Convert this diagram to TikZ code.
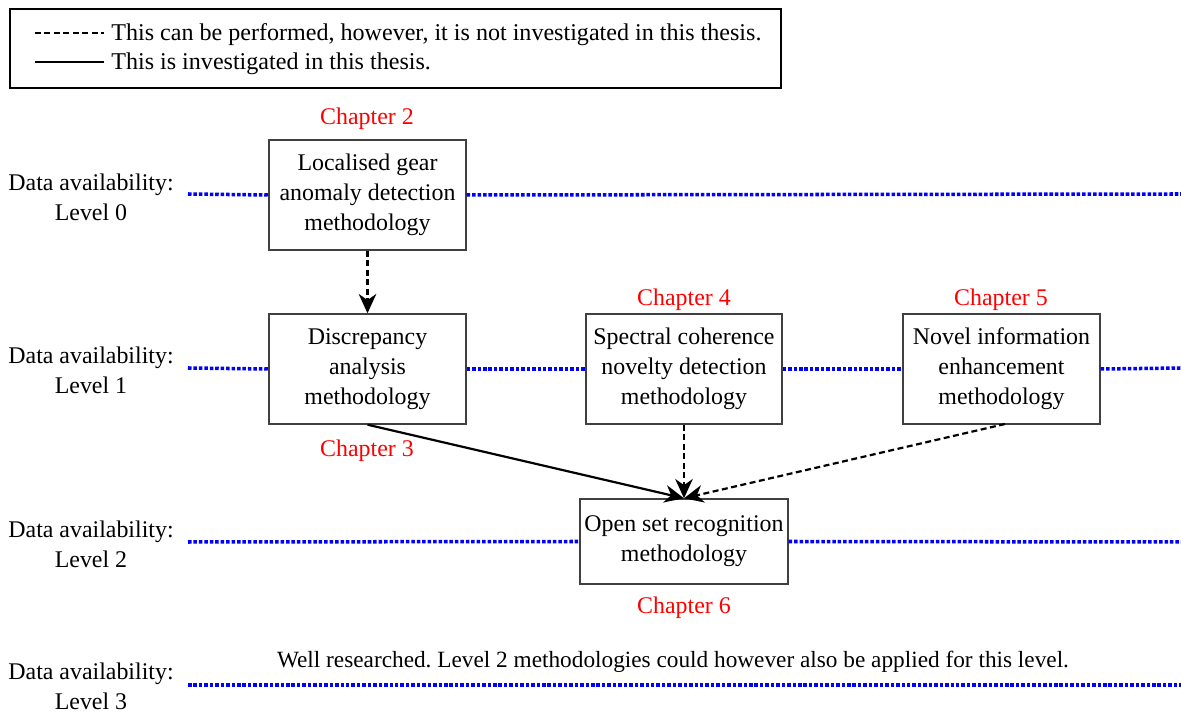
\documentclass[tikz,border=0pt]{standalone}
\usepackage{fontspec}
\setmainfont{Liberation Serif}
\usetikzlibrary{arrows.meta}
\begin{document}
\frenchspacing
\begin{tikzpicture}[x=0.02cm,y=-0.02cm,
  every node/.style={font=\fontsize{13.6}{17}\selectfont, inner sep=0pt},
  methodbox/.style={draw=black!75, line width=0.8pt, align=center},
  chapter/.style={text=red},
  levellbl/.style={align=center},
  levelline/.style={blue, line width=2pt, dash pattern=on 2pt off 1.1pt},
  flowsolid/.style={line width=1.25pt, -{Stealth[length=11pt,width=10pt,inset=3.5pt]}},
  flowdashed/.style={flowsolid, dash pattern=on 3.4pt off 2pt}]
\useasboundingbox (0,0) rectangle (1181,715);

% legend
\node[draw, line width=1.1pt, minimum width=771*0.02cm, minimum height=79*0.02cm] (legend) at (395.5,48.5) {};
\coordinate (ld1) at (35,33);  \coordinate (ld2) at (104,33);
\coordinate (ls1) at (35,62);  \coordinate (ls2) at (104,62);
\draw[line width=1.25pt, dash pattern=on 3.4pt off 2pt] (ld1) -- (ld2);
\draw[line width=1.25pt] (ls1) -- (ls2);
\node[anchor=west, font=\fontsize{13.7}{17}\selectfont] (legdash) at (111,35) {This can be performed, however, it is not investigated in this thesis.};
\node[anchor=west, font=\fontsize{13.7}{17}\selectfont] (legsolid) at (111,64) {This is investigated in this thesis.};

% level labels
\node[levellbl] (lv0) at (91,197) {Data availability:\\Level 0};
\node[levellbl] (lv1) at (91,370) {Data availability:\\Level 1};
\node[levellbl] (lv2) at (91,544) {Data availability:\\Level 2};
\node[levellbl] (lv3) at (91,686) {Data availability:\\Level 3};

% methodology boxes
\node[methodbox, minimum width=197*0.02cm, minimum height=110*0.02cm] (loc) at (367.5,195) {Localised gear\\anomaly detection\\methodology};
\node[methodbox, minimum width=197*0.02cm, minimum height=110*0.02cm] (disc) at (367.5,369) {Discrepancy\\analysis\\methodology};
\node[methodbox, minimum width=196*0.02cm, minimum height=110*0.02cm] (spec) at (684,369) {Spectral coherence\\novelty detection\\methodology};
\node[methodbox, minimum width=197*0.02cm, minimum height=110*0.02cm] (novel) at (1001.5,369) {Novel information\\enhancement\\methodology};
\node[methodbox, minimum width=208*0.02cm, minimum height=85*0.02cm] (osr) at (684,541.5) {Open set recognition\\methodology};

% chapter labels
\node[chapter] (ch2) at (367,119) {Chapter 2};
\node[chapter] (ch3) at (367,451) {Chapter 3};
\node[chapter] (ch4) at (684,300) {Chapter 4};
\node[chapter] (ch5) at (1001,300) {Chapter 5};
\node[chapter] (ch6) at (684,608) {Chapter 6};

% level lines
\coordinate (l0a) at (188,194); \coordinate (l0b) at (1181,194);
\coordinate (l1a) at (188,368); \coordinate (l1b) at (1181,368);
\coordinate (l2a) at (188,542); \coordinate (l2b) at (1181,542);
\coordinate (l3a) at (188,685); \coordinate (l3b) at (1181,685);
\draw[levelline] (l0a) -- (loc.west);  \draw[levelline] (loc.east) -- (l0b);
\draw[levelline] (l1a) -- (disc.west); \draw[levelline] (disc.east) -- (spec.west);
\draw[levelline] (spec.east) -- (novel.west); \draw[levelline] (novel.east) -- (l1b);
\draw[levelline] (l2a) -- (osr.west);  \draw[levelline] (osr.east) -- (l2b);
\draw[levelline] (l3a) -- (l3b);
\node[font=\fontsize{13.25}{17}\selectfont] (wellres) at (673,662) {Well researched. Level 2 methodologies could however also be applied for this level.};

% flows between methodologies
\coordinate (novelout) at (1005,424);
\draw[flowdashed] (loc.south) -- (disc.north);
\draw[flowsolid] (disc.south) -- (osr.north);
\draw[flowdashed] (spec.south) -- (osr.north);
\draw[flowdashed] (novelout) -- (osr.north);
\end{tikzpicture}
\end{document}
